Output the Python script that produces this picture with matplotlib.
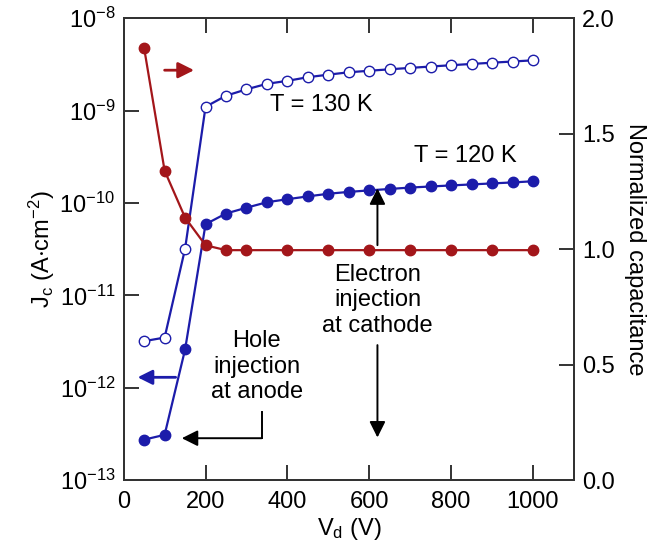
import matplotlib.pyplot as plt
import numpy as np

plt.rcParams['font.family'] = ['Liberation Sans', 'DejaVu Sans']
plt.rcParams['mathtext.default'] = 'regular'

# data
vd = [50, 100, 150, 200, 250, 300, 350, 400, 450, 500, 550, 600, 650, 700,
      750, 800, 850, 900, 950, 1000]
j_130 = [3.2e-12, 3.5e-12, 3.2e-11, 1.1e-9, 1.45e-9, 1.7e-9, 1.95e-9, 2.1e-9,
         2.3e-9, 2.45e-9, 2.6e-9, 2.7e-9, 2.8e-9, 2.9e-9, 3.0e-9, 3.1e-9,
         3.2e-9, 3.3e-9, 3.4e-9, 3.5e-9]
j_120 = [2.75e-13, 3.1e-13, 2.6e-12, 5.9e-11, 7.7e-11, 8.9e-11, 1.02e-10,
         1.1e-10, 1.18e-10, 1.26e-10, 1.32e-10, 1.37e-10, 1.42e-10, 1.47e-10,
         1.51e-10, 1.55e-10, 1.59e-10, 1.63e-10, 1.67e-10, 1.72e-10]
vd_cap = [50, 100, 150, 200, 250, 300, 400, 500, 600, 700, 800, 900, 1000]
cap = [1.87, 1.34, 1.137, 1.017, 0.996, 0.996, 0.996, 0.996, 0.996, 0.996,
       0.996, 0.996, 0.996]

yticks = [1e-13, 1e-12, 1e-11, 1e-10, 1e-9, 1e-8]
ylabels = ['$10^{-13}$', '$10^{-12}$', '$10^{-11}$', '$10^{-10}$', '$10^{-9}$', '$10^{-8}$']

blue = '#1c1caa'
red = '#a3161a'
fs = 17

fig = plt.figure(figsize=(6.65, 5.52), dpi=100)
ax = fig.add_axes([0.186, 0.130, 0.677, 0.837])
ax.set_yscale('log')

ax.plot(vd, j_130, color=blue, lw=1.6, marker='o', ms=7.5, mfc='white',
        mec=blue, mew=1.0)
ax.plot(vd, j_120, color=blue, lw=1.6, marker='o', ms=7.5, mfc=blue, mec=blue)

ax.set_xlim(0, 1100)
ax.set_ylim(1e-13, 1e-8)
ax.set_xticks([0, 200, 400, 600, 800, 1000])
ax.set_yticks(yticks)
ax.set_yticklabels(ylabels)
ax.minorticks_off()
ax.set_xlabel('V$_d$ (V)', fontsize=fs, labelpad=2)
ax.set_ylabel('J$_c$ (A$\\cdot$cm$^{-2}$)', fontsize=fs, labelpad=2)

# capacitance on right axis
ax2 = ax.twinx()
ax2.plot(vd_cap, cap, color=red, lw=1.6, marker='o', ms=7.5, mfc=red, mec=red)
ax2.set_ylim(0, 2.0)
ax2.set_yticks([0, 0.5, 1.0, 1.5, 2.0])
ax2.set_yticklabels(['0.0', '0.5', '1.0', '1.5', '2.0'])
ax2.set_ylabel('Normalized capacitance', fontsize=fs, rotation=270, labelpad=22)

for a in (ax, ax2):
    for s in a.spines.values():
        s.set_linewidth(1.4)
        s.set_color('#333333')
    a.tick_params(direction='in', length=11, width=1.4, labelsize=fs, color='#333333')
ax.tick_params(axis='x', top=True, pad=8)
ax.tick_params(axis='y', pad=6)
ax2.tick_params(axis='y', pad=6)
ax2.minorticks_off()

# text labels
ax.text(357, 1.15e-9, 'T = 130 K', fontsize=fs, va='center', ha='left')
ax.text(709, 3.2e-10, 'T = 120 K', fontsize=fs, va='center', ha='left')
ax.text(325, 1.7e-12, 'Hole\ninjection\nat anode', fontsize=fs, ha='center',
        va='center', linespacing=1.2)
ax.text(620, 8.9e-12, 'Electron\ninjection\nat cathode', fontsize=fs, ha='center',
        va='center', linespacing=1.2)

# arrows
ax2.annotate('', xy=(172, 1.775), xytext=(100, 1.775),
             arrowprops=dict(arrowstyle='-|>', color=red, lw=2, mutation_scale=24,
                             shrinkA=0, shrinkB=0))
ax.annotate('', xy=(34, 1.3e-12), xytext=(127, 1.3e-12),
            arrowprops=dict(arrowstyle='-|>', color=blue, lw=2, mutation_scale=22,
                            shrinkA=0, shrinkB=0))
ax.plot([337, 337], [5.5e-13, 2.85e-13], color='black', lw=1.4)
ax.annotate('', xy=(142, 2.85e-13), xytext=(337, 2.85e-13),
            arrowprops=dict(arrowstyle='-|>', color='black', lw=1.4,
                            mutation_scale=24, shrinkA=0, shrinkB=0))
ax.annotate('', xy=(620, 1.44e-10), xytext=(620, 3.5e-11),
            arrowprops=dict(arrowstyle='-|>', color='black', lw=1.4,
                            mutation_scale=24, shrinkA=0, shrinkB=0))
ax.annotate('', xy=(620, 2.9e-13), xytext=(620, 2.9e-12),
            arrowprops=dict(arrowstyle='-|>', color='black', lw=1.4,
                            mutation_scale=24, shrinkA=0, shrinkB=0))

fig.savefig('out.png', dpi=100)
